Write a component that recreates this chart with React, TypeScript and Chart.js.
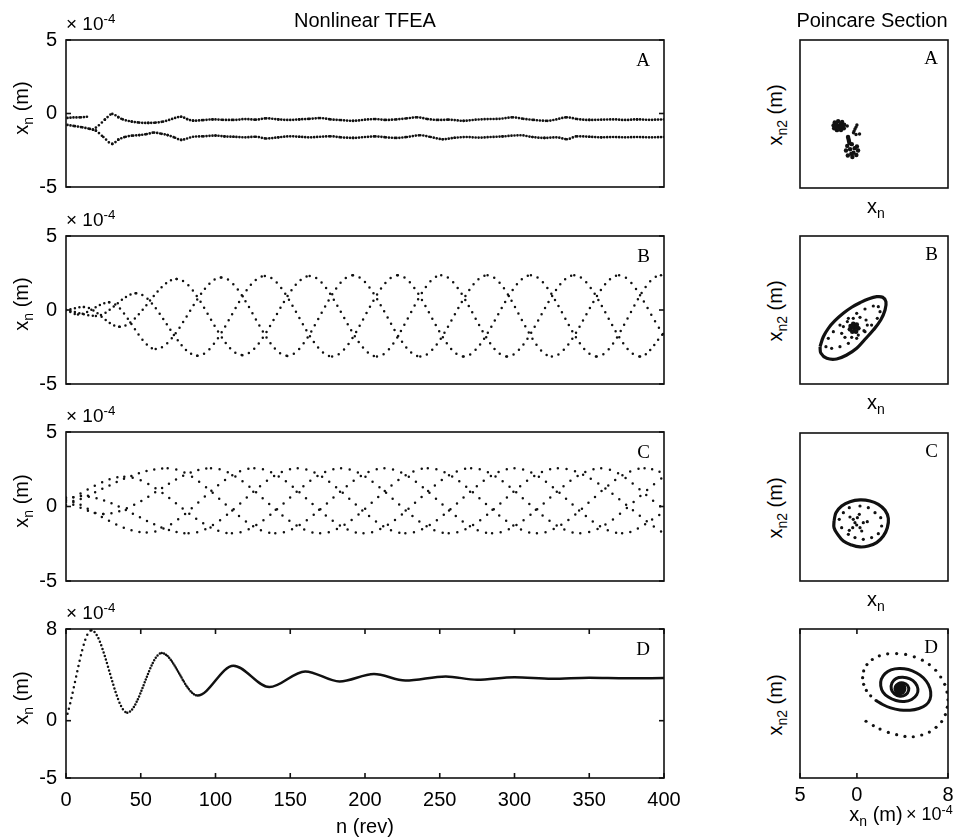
import React, { useEffect, useRef } from "react";
import { Chart, registerables } from "chart.js";

Chart.register(...registerables);

const SANS = "'Liberation Sans', Arial, Helvetica, sans-serif";
const SERIF = "'Liberation Serif', 'Times New Roman', serif";
const INK = "#111";

// ---------------- ticks ----------------
const nTicks = [0, 50, 100, 150, 200, 250, 300, 350, 400];
const yTicksABC = [-5, 0, 5];
const yLabelsABC = ["-5", "0", "5"];
const yTicksD = [-5, 0, 8];
const yLabelsD = ["-5", "0", "8"];
const poiTicksD = [-5, 0, 8];
const poiLabelsD = ["5", "0", "8"];

// ---------------- panel A (x1e-4 m) ----------------
const aEarlyN = [1, 5, 10, 14];
const aEarly = [-0.3, -0.27, -0.26, -0.22];
const aUpN = [18, 22, 26, 31, 35, 38, 44, 49, 55, 60, 65, 69, 73, 77, 81, 85, 92, 98, 105, 112, 120, 127, 134, 142, 150, 156, 163, 170, 177, 184, 192, 200, 207, 214, 221, 228, 235, 242, 249, 256, 266, 274, 282, 290, 299, 306, 313, 322, 328, 335, 342, 350, 358, 366, 374, 382, 390, 400];
const aUp = [-1.1, -0.8, -0.42, -0.03, -0.25, -0.4, -0.55, -0.62, -0.64, -0.62, -0.55, -0.44, -0.3, -0.22, -0.38, -0.49, -0.45, -0.4, -0.43, -0.44, -0.38, -0.42, -0.33, -0.4, -0.44, -0.4, -0.36, -0.31, -0.4, -0.45, -0.5, -0.42, -0.38, -0.44, -0.4, -0.33, -0.26, -0.38, -0.44, -0.42, -0.5, -0.42, -0.38, -0.36, -0.26, -0.36, -0.44, -0.5, -0.4, -0.26, -0.38, -0.44, -0.42, -0.4, -0.44, -0.4, -0.43, -0.4];
const aLowN = [1, 6, 11, 16, 20, 25, 31, 35, 40, 45, 49, 54, 59, 64, 68, 73, 77, 81, 85, 92, 100, 106, 112, 120, 127, 134, 142, 150, 156, 163, 170, 177, 184, 192, 200, 207, 214, 221, 228, 237, 244, 252, 260, 268, 276, 284, 292, 304, 312, 320, 328, 335, 342, 350, 358, 366, 374, 382, 390, 400];
const aLow = [-0.78, -0.86, -0.94, -1.05, -1.17, -1.6, -2.07, -1.78, -1.58, -1.5, -1.47, -1.4, -1.3, -1.38, -1.47, -1.65, -1.8, -1.7, -1.58, -1.55, -1.5, -1.56, -1.58, -1.62, -1.58, -1.7, -1.62, -1.55, -1.58, -1.62, -1.58, -1.55, -1.62, -1.66, -1.6, -1.56, -1.62, -1.66, -1.6, -1.48, -1.6, -1.75, -1.65, -1.6, -1.64, -1.6, -1.56, -1.48, -1.6, -1.66, -1.62, -1.75, -1.55, -1.58, -1.62, -1.6, -1.62, -1.6, -1.62, -1.6];

// ---------------- panel B: three interleaved branches (extrema) ----------------
const bN1 = [0, 12, 36, 74, 118, 163, 208, 251, 295, 340, 384, 400];
const bX1 = [0, 0.2, -1.13, 2.1, -3.05, 2.3, -3.15, 2.35, -3.15, 2.35, -3.15, -1.55];
const bN2 = [0, 8, 29, 60, 104, 148, 192, 237, 282, 325, 370, 400];
const bX2 = [0, -0.3, 0.52, -2.64, 2.2, -3.1, 2.35, -3.15, 2.35, -3.15, 2.35, -1.7];
const bN3 = [0, 20, 47, 88, 133, 178, 222, 266, 311, 355, 398, 400];
const bX3 = [0, -0.4, 1.13, -3.09, 2.3, -3.15, 2.35, -3.15, 2.35, -3.15, 2.35, 2.33];

// ---------------- panel C: five interleaved branches (extrema) ----------------
const cN1 = [0, 10, 82, 155, 227, 300, 372, 400];
const cX1 = [0.5, 0.7, -1.8, 2.57, -1.8, 2.57, -1.8, -0.4];
const cN2 = [0, 39, 111, 184, 256, 329, 400];
const cX2 = [0.4, 2.0, -1.8, 2.57, -1.8, 2.57, -1.8];
const cN3 = [0, 68, 140, 213, 285, 358, 400];
const cX3 = [0.1, 2.57, -1.8, 2.57, -1.8, 2.57, -0.15];
const cN4 = [0, 25, 97, 170, 242, 315, 387, 400];
const cX4 = [0.3, -0.5, 2.57, -1.8, 2.57, -1.8, 2.57, 2.25];
const cN5 = [0, 54, 126, 199, 271, 344, 400];
const cX5 = [0.6, -1.75, 2.57, -1.8, 2.57, -1.8, 2.0];

// ---------------- panel D: damped response (extrema) ----------------
const dN = [1, 17, 41, 64, 88, 112, 136, 160, 183, 206, 227, 254, 275, 300, 325, 350, 375, 400];
const dX = [0.6, 7.9, 0.7, 5.9, 2.2, 4.8, 2.93, 4.3, 3.42, 4.07, 3.5, 3.86, 3.57, 3.8, 3.66, 3.75, 3.7, 3.72];

// ---------------- Poincare sections (x_n, x_n2) ----------------
const poiA1 = [[-2.05, 0.5], [-1.95, 0.75], [-1.65, 0.87], [-1.3, 0.8], [-1.12, 0.55], [-1.15, 0.25], [-1.4, 0.1], [-1.75, 0.08], [-2.0, 0.25], [-1.6, 0.45], [-1.8, 0.55], [-1.45, 0.6], [-1.55, 0.3], [-1.85, 0.35], [-1.35, 0.4]];
const poiA2 = [[-0.85, 0.44], [0.0, 0.53], [-0.08, 0.35], [-0.17, 0.18], [-0.25, 0.0], [-0.3, -0.15], [-0.08, -0.3], [0.23, -0.26]];
const poiA3 = [[-0.96, -1.7], [-0.85, -1.3], [-0.45, -1.15], [0.0, -1.35], [0.1, -1.7], [-0.05, -2.1], [-0.4, -2.28], [-0.8, -2.15], [-0.6, -1.6], [-0.3, -1.9], [-0.2, -1.5], [-0.5, -2.0], [-0.78, -0.52], [-0.74, -0.7], [-0.7, -0.87], [-0.66, -1.05]];

const poiBOuter = [[-3.24, -1.72], [-2.95, -0.85], [-2.51, -0.11], [-1.93, 0.56], [-1.2, 1.21], [-0.46, 1.74], [0.27, 2.14], [1.0, 2.47], [1.74, 2.67], [2.26, 2.62], [2.55, 2.23], [2.47, 1.5], [2.09, 0.62], [1.44, -0.26], [0.71, -1.07], [-0.02, -1.86], [-0.9, -2.45], [-1.78, -2.8], [-2.65, -2.74], [-3.16, -2.3], [-3.24, -1.72]];
const poiBRing1 = [[-2.72, -1.72], [-2.51, -0.99], [-2.07, -0.4], [-1.49, 0.18], [-0.75, 0.77], [-0.02, 1.21], [0.71, 1.59], [1.44, 1.85], [1.88, 1.79], [2.03, 1.35], [1.79, 0.77], [1.29, 0.18], [0.71, -0.4], [-0.02, -0.99], [-0.75, -1.43], [-1.49, -1.72], [-2.22, -1.87]];
const poiBRing2 = [[-1.34, -0.55], [-1.19, 0.04], [-0.84, 0.48], [-0.32, 0.77], [0.27, 0.86], [0.8, 0.62], [0.91, 0.18], [0.62, -0.32], [0.12, -0.7], [-0.46, -0.9], [-1.05, -0.9]];
const poiBCore = [[-0.55, 0.09], [-0.32, 0.27], [-0.02, 0.21], [0.12, -0.11], [-0.08, -0.4], [-0.4, -0.4], [-0.61, -0.2], [-0.23, -0.08], [-0.37, 0.04], [-0.02, -0.02]];

const poiCOuter = [[-2.01, 0.27], [-1.84, 1.0], [-1.34, 1.59], [-0.61, 1.97], [0.27, 2.12], [1.15, 2.03], [1.88, 1.73], [2.47, 1.21], [2.76, 0.5], [2.67, -0.32], [2.32, -1.05], [1.73, -1.63], [1.0, -1.93], [0.27, -2.01], [-0.46, -1.84], [-1.19, -1.49], [-1.69, -0.9], [-2.01, -0.32], [-2.01, 0.27]];
const poiCRing = [[-1.55, 0.42], [-1.19, 1.0], [-0.67, 1.44], [0.27, 1.59], [1.0, 1.44], [1.59, 1.0], [2.09, 0.56], [2.17, -0.17], [1.88, -0.84], [1.29, -1.19], [0.56, -1.34], [-0.17, -1.19], [-0.75, -0.9], [-1.34, -0.32]];
const poiCSpokes = [[-0.17, 0.12], [-0.32, 0.42], [-0.61, 0.62], [0.04, 0.56], [0.21, 0.86], [0.56, 0.12], [0.91, 0.21], [0.27, -0.32], [0.42, -0.61], [-0.37, -0.32], [-0.67, -0.55], [-0.02, -0.08]];

const poiDOuter = [[0.8, -0.05], [1.44, -0.43], [2.03, -0.73], [2.76, -1.02], [3.49, -1.22], [4.22, -1.37], [4.95, -1.4], [5.69, -1.25], [6.36, -0.99], [6.95, -0.58], [7.44, -0.08], [7.77, 0.53], [7.94, 1.18], [8.0, 1.82], [7.91, 2.5], [7.71, 3.17], [7.36, 3.81], [6.92, 4.4], [6.36, 4.9], [5.75, 5.28], [5.04, 5.57], [4.28, 5.78], [3.49, 5.86], [2.7, 5.83], [1.97, 5.66], [1.35, 5.34], [0.88, 4.9], [0.59, 4.34], [0.5, 3.75], [0.59, 3.17], [0.83, 2.64], [1.21, 2.17], [1.68, 1.76]];
const poiDSpiral = [[1.68, 1.76], [2.26, 1.41], [2.96, 1.12], [3.78, 0.94], [4.66, 0.91], [5.45, 1.06], [6.07, 1.38], [6.42, 1.88], [6.48, 2.5], [6.27, 3.17], [5.83, 3.75], [5.25, 4.16], [4.52, 4.46], [3.72, 4.55], [2.99, 4.43], [2.47, 4.11], [2.14, 3.61], [2.09, 3.05], [2.29, 2.5], [2.76, 2.06], [3.43, 1.76], [4.16, 1.68], [4.81, 1.85], [5.25, 2.26], [5.36, 2.76], [5.13, 3.29], [4.66, 3.64], [4.02, 3.78], [3.43, 3.67], [3.08, 3.29], [3.02, 2.76], [3.29, 2.35], [3.78, 2.14], [4.28, 2.26], [4.54, 2.64], [4.46, 3.05], [4.08, 3.29], [3.64, 3.23], [3.43, 2.85]];
const poiDCore = [[3.78, 2.79]];

// ---------------- helpers ----------------
const pts = (ns: number[], vs: number[]) => ns.map((n, i) => ({ x: n, y: vs[i] }));
const pairs = (arr: number[][]) => arr.map(([x, y]) => ({ x, y }));

// spacing of the dots along a segment so that there is one dot per `step` revolutions
const dashFor = (step: number) => (ctx: any) => {
  const xs = ctx.chart.scales.x;
  const pxPerRev = xs.width / (xs.max - xs.min);
  const dx = Math.abs(ctx.p1.x - ctx.p0.x);
  const dy = Math.abs(ctx.p1.y - ctx.p0.y);
  if (dx < 0.01) return [0, 3];
  const gap = (Math.hypot(dx, dy) * pxPerRev * step) / dx;
  return gap < 2.3 ? [] : [0, gap];
};

const dotted = (ns: number[], vs: number[], step: number, width = 2.5) => ({
  data: pts(ns, vs),
  borderColor: INK,
  borderWidth: width,
  pointRadius: 0,
  fill: false,
  tension: 0.4,
  cubicInterpolationMode: "monotone",
  borderCapStyle: "round",
  borderJoinStyle: "round",
  segment: { borderDash: dashFor(step) },
});

const scatterSet = (arr: number[][], r = 1.6) => ({
  data: pairs(arr),
  showLine: false,
  pointRadius: r,
  pointBackgroundColor: INK,
  pointBorderWidth: 0,
  pointBorderColor: INK,
});

const ringSet = (arr: number[][], w = 3) => ({
  data: pairs(arr),
  showLine: true,
  borderColor: INK,
  borderWidth: w,
  tension: 0.4,
  pointRadius: 0,
  fill: false,
});

const boxPlugin = {
  id: "matlabBox",
  afterDatasetsDraw(chart: any, _args: any, opts: any) {
    const { ctx, chartArea: a } = chart;
    ctx.save();
    ctx.strokeStyle = INK;
    ctx.lineWidth = 1.6;
    const len = 5;
    const seg = (x1: number, y1: number, x2: number, y2: number) => {
      ctx.beginPath();
      ctx.moveTo(x1, y1);
      ctx.lineTo(x2, y2);
      ctx.stroke();
    };
    const ys = chart.scales.y;
    (opts.yTicks || []).forEach((v: number) => {
      const py = ys.getPixelForValue(v);
      seg(a.left, py, a.left + len, py);
      seg(a.right, py, a.right - len, py);
    });
    const xs = chart.scales.x;
    (opts.xTicks || []).forEach((v: number) => {
      const px = xs.getPixelForValue(v);
      seg(px, a.bottom, px, a.bottom - len);
      seg(px, a.top, px, a.top + len);
    });
    ctx.strokeRect(a.left, a.top, a.right - a.left, a.bottom - a.top);
    ctx.restore();
  },
};

const tickFont = { family: SANS, size: 20 };

function timeConfig(datasets: any[], o: { padTop: number; padBottom: number; yMin: number; yMax: number; yTicks: number[]; yLabels: string[]; showX: boolean; xH?: number }) {
  return {
    type: "line",
    data: { datasets },
    plugins: [boxPlugin],
    options: {
      animation: false,
      responsive: false,
      devicePixelRatio: 1,
      events: [],
      layout: { padding: { left: 0, right: 26, top: o.padTop, bottom: o.showX ? 0 : o.padBottom } },
      plugins: {
        legend: { display: false },
        tooltip: { enabled: false },
        matlabBox: { yTicks: o.yTicks, xTicks: o.showX ? nTicks : [] },
      },
      scales: {
        x: {
          type: "linear",
          min: 0,
          max: 400,
          display: o.showX,
          afterBuildTicks: (s: any) => { s.ticks = nTicks.map((v) => ({ value: v })); },
          afterFit: (s: any) => {
            if (o.showX) s.height = o.xH || 59;
            s.paddingLeft = 0;
            s.paddingRight = 0;
          },
          grid: { display: false, drawTicks: false },
          border: { display: false },
          ticks: { color: "#000", font: tickFont, padding: 10, maxRotation: 0, autoSkip: false, callback: (v: any) => String(v) },
        },
        y: {
          type: "linear",
          min: o.yMin,
          max: o.yMax,
          afterBuildTicks: (s: any) => { s.ticks = o.yTicks.map((v) => ({ value: v })); },
          afterFit: (s: any) => { s.width = 66; s.paddingTop = 0; s.paddingBottom = 0; },
          grid: { display: false, drawTicks: false },
          border: { display: false },
          ticks: { color: "#000", font: tickFont, padding: 9, callback: (_v: any, i: number) => o.yLabels[i] },
        },
      },
    },
  };
}

function poiConfig(datasets: any[], o: { padTop: number; padBottom: number; showX: boolean }) {
  return {
    type: "scatter",
    data: { datasets },
    plugins: [boxPlugin],
    options: {
      animation: false,
      responsive: false,
      devicePixelRatio: 1,
      events: [],
      layout: { padding: { left: 10, right: 7, top: o.padTop, bottom: o.showX ? 0 : o.padBottom } },
      plugins: {
        legend: { display: false },
        tooltip: { enabled: false },
        matlabBox: { yTicks: [], xTicks: o.showX ? poiTicksD : [] },
      },
      scales: {
        x: {
          type: "linear",
          min: -5,
          max: 8,
          display: o.showX,
          afterBuildTicks: (s: any) => { s.ticks = poiTicksD.map((v) => ({ value: v })); },
          afterFit: (s: any) => {
            if (o.showX) s.height = 59;
            s.paddingLeft = 0;
            s.paddingRight = 0;
          },
          grid: { display: false, drawTicks: false },
          border: { display: false },
          ticks: { color: "#000", font: tickFont, padding: 5, maxRotation: 0, autoSkip: false, callback: (_v: any, i: number) => poiLabelsD[i] },
        },
        y: { type: "linear", min: -5, max: 8, display: false },
      },
    },
  };
}

function ChartCanvas({ x, y, w, h, make }: { x: number; y: number; w: number; h: number; make: () => any }) {
  const ref = useRef<HTMLCanvasElement>(null);
  useEffect(() => {
    const chart = new Chart(ref.current as HTMLCanvasElement, make());
    return () => chart.destroy();
  }, []);
  return <canvas ref={ref} width={w} height={h} style={{ position: "absolute", left: x, top: y, width: w, height: h }} />;
}

function Txt({ x, y, children, size = 20, align = "center", rotate = false, family = SANS }: any) {
  const tx = align === "center" ? "-50%" : align === "right" ? "-100%" : "0";
  return (
    <div
      style={{
        position: "absolute",
        left: x,
        top: y,
        fontFamily: family,
        fontSize: size,
        lineHeight: 1,
        whiteSpace: "nowrap",
        color: "#000",
        transform: `translate(${tx}, -50%)${rotate ? " rotate(-90deg)" : ""}`,
      }}
    >
      {children}
    </div>
  );
}

const Sub = ({ children }: any) => <span style={{ fontSize: "0.7em", position: "relative", top: "0.35em" }}>{children}</span>;
const Sup = ({ children }: any) => <span style={{ fontSize: "0.7em", position: "relative", top: "-0.5em" }}>{children}</span>;

const leftBoxes = [
  { top: 40, bottom: 187 },
  { top: 236, bottom: 384 },
  { top: 432, bottom: 581 },
  { top: 629, bottom: 778 },
];
const rightBoxes = [
  { top: 40, bottom: 188 },
  { top: 236, bottom: 384 },
  { top: 433, bottom: 581 },
  { top: 629, bottom: 778 },
];
const letters = ["A", "B", "C", "D"];

export default function App() {
  return (
    <div style={{ position: "absolute", left: 0, top: 0, width: 955, height: 837, background: "#fff", overflow: "hidden" }}>
      <ChartCanvas
        x={0} y={0} w={690} h={200}
        make={() => timeConfig([
          dotted(aEarlyN, aEarly, 2, 2.7),
          dotted(aUpN, aUp, 2, 2.7),
          dotted(aLowN, aLow, 2, 2.7),
        ], { padTop: 40, padBottom: 13, yMin: -5, yMax: 5, yTicks: yTicksABC, yLabels: yLabelsABC, showX: false })}
      />
      <ChartCanvas
        x={0} y={200} w={690} h={200}
        make={() => timeConfig([
          dotted(bN1, bX1, 3),
          dotted(bN2, bX2, 3),
          dotted(bN3, bX3, 3),
        ], { padTop: 36, padBottom: 16, yMin: -5, yMax: 5, yTicks: yTicksABC, yLabels: yLabelsABC, showX: false })}
      />
      <ChartCanvas
        x={0} y={400} w={690} h={200}
        make={() => timeConfig([
          dotted(cN1, cX1, 5),
          dotted(cN2, cX2, 5),
          dotted(cN3, cX3, 5),
          dotted(cN4, cX4, 5),
          dotted(cN5, cX5, 5),
        ], { padTop: 32, padBottom: 19, yMin: -5, yMax: 5, yTicks: yTicksABC, yLabels: yLabelsABC, showX: false })}
      />
      <ChartCanvas
        x={0} y={600} w={690} h={237}
        make={() => timeConfig([dotted(dN, dX, 1, 2.5)], { padTop: 29, padBottom: 0, yMin: -5, yMax: 8, yTicks: yTicksD, yLabels: yLabelsD, showX: true, xH: 59 })}
      />

      <ChartCanvas
        x={790} y={0} w={165} h={200}
        make={() => poiConfig([scatterSet(poiA1, 2.2), scatterSet(poiA2, 1.7), scatterSet(poiA3, 2.2)], { padTop: 40, padBottom: 12, showX: false })}
      />
      <ChartCanvas
        x={790} y={200} w={165} h={200}
        make={() => poiConfig([ringSet(poiBOuter, 3.2), scatterSet(poiBRing1, 1.6), scatterSet(poiBRing2, 1.6), scatterSet(poiBCore, 2.4)], { padTop: 36, padBottom: 16, showX: false })}
      />
      <ChartCanvas
        x={790} y={400} w={165} h={200}
        make={() => poiConfig([ringSet(poiCOuter, 3.2), scatterSet(poiCRing, 1.6), scatterSet(poiCSpokes, 1.6)], { padTop: 33, padBottom: 19, showX: false })}
      />
      <ChartCanvas
        x={790} y={600} w={165} h={237}
        make={() => poiConfig([scatterSet(poiDOuter, 1.6), ringSet(poiDSpiral, 3), scatterSet(poiDCore, 6.5)], { padTop: 29, padBottom: 0, showX: true })}
      />

      <Txt x={365} y={20}>Nonlinear TFEA</Txt>
      <Txt x={872} y={20}>Poincare Section</Txt>

      {leftBoxes.map((b, i) => (
        <React.Fragment key={"l" + i}>
          <Txt x={66} y={b.top - 17} size={19} align="left">
            × 10<Sup>-4</Sup>
          </Txt>
          <Txt x={21} y={(b.top + b.bottom) / 2 - 6} rotate>
            x<Sub>n</Sub> (m)
          </Txt>
          <Txt x={650} y={b.top + 19} size={19} align="right" family={SERIF}>
            {letters[i]}
          </Txt>
        </React.Fragment>
      ))}
      {rightBoxes.map((b, i) => (
        <React.Fragment key={"r" + i}>
          <Txt x={775} y={(b.top + b.bottom) / 2 + 1} rotate>
            x<Sub>n2</Sub> (m)
          </Txt>
          <Txt x={938} y={b.top + 17} size={19} align="right" family={SERIF}>
            {letters[i]}
          </Txt>
          {i < 3 ? (
            <Txt x={876} y={b.bottom + 18}>
              x<Sub>n</Sub>
            </Txt>
          ) : null}
        </React.Fragment>
      ))}
      <Txt x={365} y={826}>n (rev)</Txt>
      <Txt x={876} y={814}>
        x<Sub>n</Sub> (m)
      </Txt>
      <Txt x={906} y={814} size={18} align="left">
        × 10<Sup>-4</Sup>
      </Txt>
    </div>
  );
}
